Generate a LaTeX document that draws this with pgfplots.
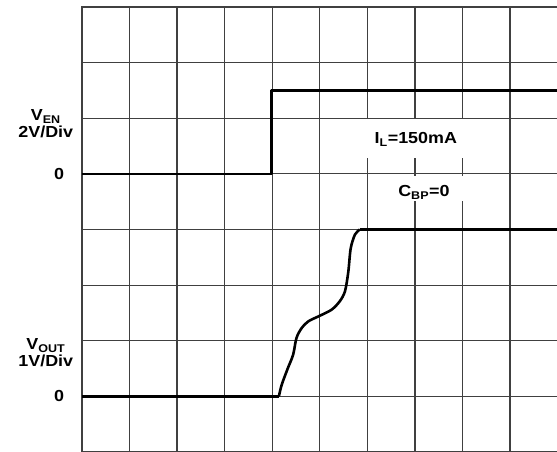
\documentclass[border=0pt]{standalone}
\usepackage{fontspec}
\setmainfont{Liberation Sans}[FakeStretch=1.12]
\usepackage{pgfplots}
\pgfplotsset{compat=1.18}
\tikzset{lab/.style={font=\bfseries\fontsize{16}{16.5}\selectfont, inner sep=0pt}}

\begin{document}
\begin{tikzpicture}
\begin{axis}[
    at={(0,0)}, anchor=south west,
    scale only axis,
    width=476pt, height=445.4pt,
    xmin=0, xmax=10, ymin=0, ymax=8,
    xtick={0,...,10}, ytick={0,...,8},
    xticklabels={}, yticklabels={},
    major tick length=0pt,
    grid=major,
    grid style={black!75, line width=1.2pt},
    axis line style={black!75, line width=1.2pt},
    clip=false,
]
% white patches behind the notes
\fill[white] (axis cs:5.21,5.98) rectangle (axis cs:8.78,5.29);
\fill[white] (axis cs:6.51,4.96) rectangle (axis cs:8.15,4.51);

% V_EN trace
\addplot[black, line width=2.6pt, line join=round] coordinates {
    (0,5) (3.99,5) (3.99,6.5) (10,6.5)
};
% V_OUT trace
\addplot[black, line width=2.6pt, line join=round] coordinates {
    (0,1) (4.14,1)
};
\addplot[black, line width=2.6pt, smooth, tension=0.5] coordinates {
    (4.14,1.0) (4.20,1.21) (4.33,1.51) (4.44,1.75) (4.51,2.05)
    (4.62,2.23) (4.76,2.35) (5.00,2.45) (5.25,2.56) (5.42,2.71)
    (5.53,2.89) (5.60,3.24) (5.65,3.66) (5.74,3.91) (5.84,4.0)
};
\addplot[black, line width=2.6pt] coordinates {
    (5.84,4) (10,4)
};

% labels
\node[lab, anchor=base] at (axis cs:-0.76,5.955) {V\textsubscript{EN}};
\node[lab, anchor=base] at (axis cs:-0.76,5.66) {2V/Div};
\node[lab] at (axis cs:-0.48,5) {0};
\node[lab, anchor=base] at (axis cs:-0.76,1.84) {V\textsubscript{OUT}};
\node[lab, anchor=base] at (axis cs:-0.76,1.53) {1V/Div};
\node[lab] at (axis cs:-0.48,1) {0};
\node[lab, anchor=base] at (axis cs:7.02,5.54) {I\textsubscript{L}=150mA};
\node[lab, anchor=base] at (axis cs:7.19,4.585) {C\textsubscript{BP}=0};
\end{axis}
\pgfresetboundingbox
\path (-82pt,0.4pt) rectangle (475.4pt,452.4pt);
\end{tikzpicture}
\end{document}
